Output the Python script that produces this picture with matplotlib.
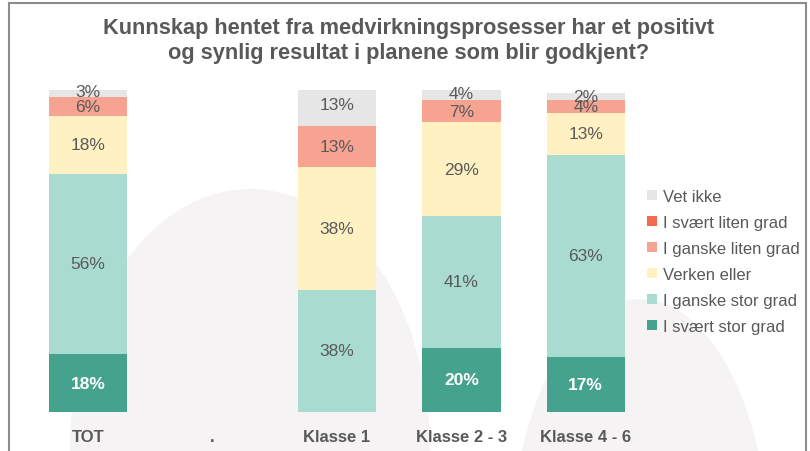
import matplotlib.pyplot as plt
from matplotlib.patches import Ellipse
from matplotlib.lines import Line2D
import numpy as np

plt.rcParams['font.family'] = ['Liberation Sans', 'DejaVu Sans']

categories = ['TOT', '.', 'Klasse 1', 'Klasse 2 - 3', 'Klasse 4 - 6']
series = ['I svært stor grad', 'I ganske stor grad', 'Verken eller',
          'I ganske liten grad', 'I svært liten grad', 'Vet ikke']
svaert_stor = [18, 0, 0, 20, 17]
ganske_stor = [56, 0, 38, 41, 63]
verken = [18, 0, 38, 29, 13]
ganske_liten = [6, 0, 13, 7, 4]
svaert_liten = [0, 0, 0, 0, 0]
vet_ikke = [3, 0, 13, 4, 2]
colors = ['#45a28d', '#aadbd0', '#fff1c2', '#f7a391', '#f26b4c', '#e6e6e6']

grey_txt = '#595959'
W, H = 810, 452

fig = plt.figure(figsize=(8.1, 4.52), dpi=100)

# faint decorative background shapes (pixel sizes converted to figure fractions)
for cx, cy, w, h in [(250, 450, 360, 520), (640, 560, 260, 520)]:
    fig.patches.append(Ellipse((cx / W, 1 - cy / H), w / W, h / H,
                               transform=fig.transFigure, facecolor='#f5f3f4',
                               edgecolor='none', zorder=0))

# frame
fig.add_artist(Line2D([0.011, 0.011], [0, 0.991], color='#8c8c8c', lw=1.5))
fig.add_artist(Line2D([0.011, 0.995], [0.991, 0.991], color='#8c8c8c', lw=1.5))
fig.add_artist(Line2D([0.995, 0.995], [0, 0.991], color='#8c8c8c', lw=1.5))

ax = fig.add_axes([0.032, 0.0863, 0.768, 0.712])
ax.set_facecolor('none')
ax.set_zorder(2)

data = [svaert_stor, ganske_stor, verken, ganske_liten, svaert_liten, vet_ikke]
x = np.arange(len(categories))
bottom = np.zeros(len(categories))
handles = []
for i, (vals, name, c) in enumerate(zip(data, series, colors)):
    vals = np.array(vals, dtype=float)
    b = ax.bar(x, vals, 0.63, bottom=bottom, color=c, label=name, zorder=2)
    handles.append(b)
    for xi, v, bt in zip(x, vals, bottom):
        if v > 0:
            if i == 0:
                ax.text(xi, bt + v / 2, f'{int(v)}%', ha='center', va='center',
                        color='white', fontsize=12.5, fontweight='bold', zorder=3)
            else:
                ax.text(xi, bt + v / 2, f'{int(v)}%', ha='center', va='center',
                        color=grey_txt, fontsize=12.5, zorder=3)
    bottom += vals

ax.set_xlim(-0.5, 4.5)
ax.set_ylim(0, 100)
ax.set_xticks(x)
ax.set_xticklabels(categories, fontsize=12, fontweight='bold', color=grey_txt)
ax.tick_params(axis='x', length=0, pad=12)
ax.set_yticks([])
for s in ax.spines.values():
    s.set_visible(False)

leg = fig.legend(handles[::-1], series[::-1], loc='upper left',
                 bbox_to_anchor=(0.78, 0.613), frameon=False, fontsize=12,
                 labelcolor=grey_txt, handlelength=0.6, handleheight=0.6,
                 handletextpad=0.35, labelspacing=0.66)

fig.text(0.505, 0.909, 'Kunnskap hentet fra medvirkningsprosesser har et positivt\n'
         'og synlig resultat i planene som blir godkjent?', ha='center', va='center',
         fontsize=15.7, fontweight='bold', color=grey_txt, linespacing=1.25)

fig.savefig('out.png', dpi=100)
